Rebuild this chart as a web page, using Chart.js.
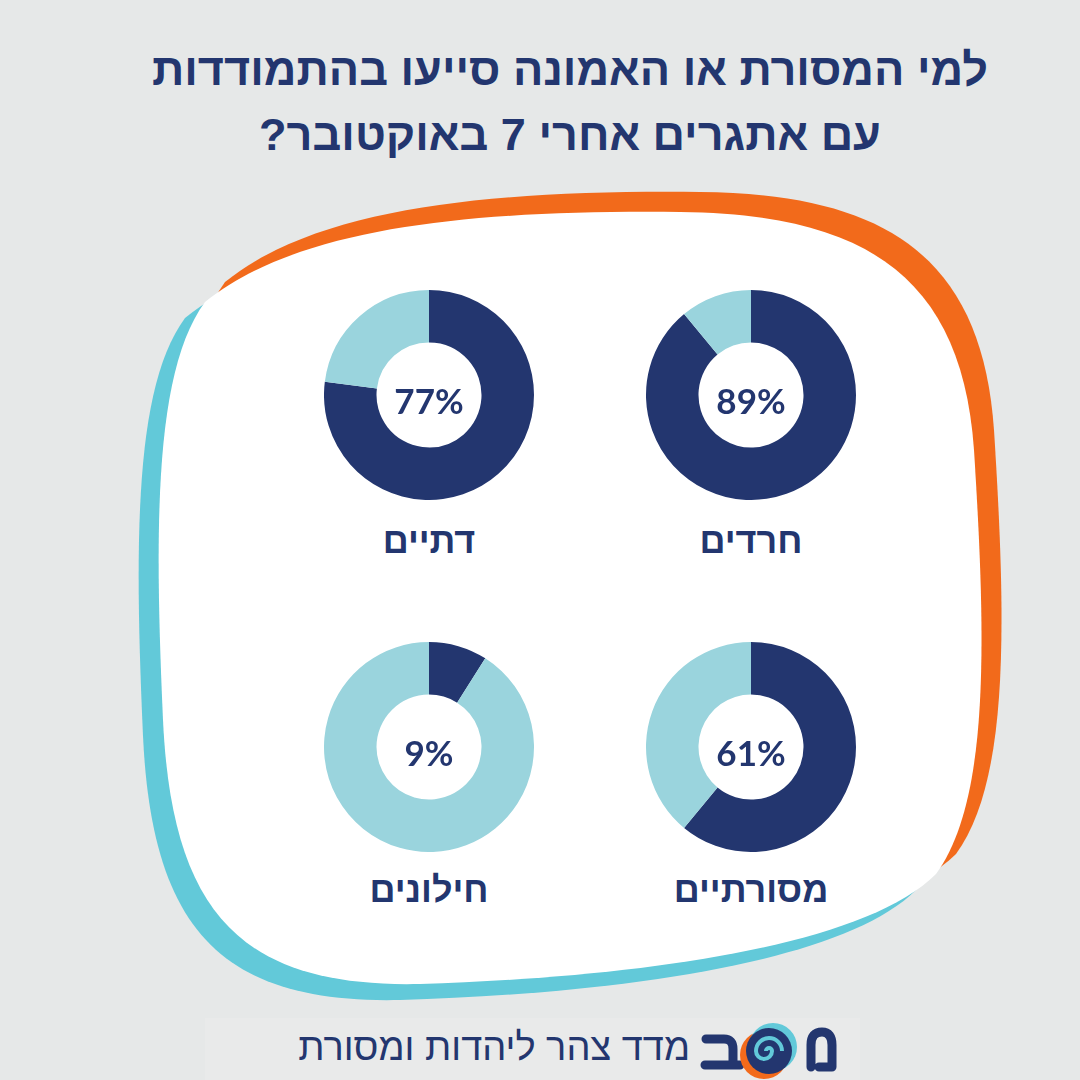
<!DOCTYPE html>
<html lang="he" dir="rtl">
<head>
<meta charset="utf-8">
<script src="https://cdn.jsdelivr.net/npm/chart.js@4.4.1/dist/chart.umd.min.js"></script>
<style>
  html, body { margin: 0; padding: 0; }
  body {
    width: 1080px; height: 1080px; position: relative; overflow: hidden;
    background: #e6e8e8;
    font-family: "Liberation Sans", "DejaVu Sans", sans-serif;
    color: #23366f;
  }
  #title {
    position: absolute; left: 70px; top: 37px; width: 1000px;
    text-align: center; font-weight: bold; font-size: 45px; line-height: 65px;
    margin: 0;
  }
  #blob { position: absolute; left: 0; top: 0; }
  .donut { position: absolute; }
  .label {
    position: absolute; width: 260px; text-align: center;
    font-weight: bold; font-size: 36px; line-height: 41px;
  }
  #footerBox {
    position: absolute; left: 205px; top: 1018px; width: 655px; height: 62px;
    background: #e9eaea;
  }
  #footerText {
    position: absolute; right: 390px; top: 1026px;
    font-size: 38px; line-height: 42px; white-space: nowrap;
  }
</style>
</head>
<body>
<svg id="blob" width="1080" height="1080">
  <defs>
    <path id="shape" d="M 205 302 C 300 225, 480 210, 680 212 C 870 214, 962 280, 974 450 C 986 640, 990 800, 936 874 C 860 950, 620 978, 420 984 C 240 988, 172 912, 163 720 C 154 520, 155 370, 205 302 Z"/>
  </defs>
  <use href="#shape" fill="#62c9d9" transform="translate(-20 16)"/>
  <use href="#shape" fill="#f26a1b" transform="translate(20 -20)"/>
  <use href="#shape" fill="#ffffff"/>
</svg>

<h1 id="title">למי המסורת או האמונה סייעו בהתמודדות<br>עם אתגרים אחרי 7 באוקטובר?</h1>

<div id="charts"></div>

<div id="footerBox"></div>
<svg style="position:absolute;left:700px;top:1015px" width="140" height="65">
  <!-- ב -->
  <path d="M 6 24 H 24 Q 33 24 33 34 V 50 M 5 50 H 40" fill="none" stroke="#23366f" stroke-width="9" stroke-linecap="round"/>
  <!-- swirl -->
  <circle cx="64" cy="40" r="24" fill="#f26a1b"/>
  <circle cx="73" cy="32" r="24" fill="#62c9d9"/>
  <circle cx="69" cy="36" r="23" fill="#23366f"/>
  <path d="M 69 36 m -3 0 a 3 3 0 1 1 6 0 a 8 8 0 0 1 -16 0 a 13 13 0 0 1 26 0" fill="none" stroke="#62c9d9" stroke-width="4"/>
  <!-- מ -->
  <path d="M 111 52 V 30 Q 111 17 122 17 Q 132 17 132 30 V 52 H 119" fill="none" stroke="#23366f" stroke-width="9" stroke-linecap="round" stroke-linejoin="round"/>
</svg>
<div id="footerText">מדד צהר ליהדות ומסורת</div>

<script>
// Data
const groups = ['חרדים', 'דתיים', 'מסורתיים', 'חילונים'];
const relied = [89, 77, 61, 9];

// Layout: centre of each donut
const centersX = [751, 429, 751, 429];
const centersY = [395, 395, 747, 747];
const labelY = [520, 520, 869, 869];

const DARK = '#23366f';
const LIGHT = '#9ad4dd';
const SIZE = 210;

// Draws the percentage inside the hole
const centerText = {
    id: 'centerText',
    afterDraw(chart) {
        const ctx = chart.ctx;
        const arc = chart.getDatasetMeta(0).data[0];
        ctx.save();
        ctx.font = 'bold 35px Lato, "Liberation Sans", sans-serif';
        ctx.fillStyle = DARK;
        ctx.textAlign = 'center';
        ctx.textBaseline = 'middle';
        ctx.fillText(chart.data.datasets[0].data[0] + '%', arc.x, arc.y + 8);
        ctx.restore();
    }
};

const container = document.getElementById('charts');

groups.forEach((name, i) => {
    const canvas = document.createElement('canvas');
    canvas.className = 'donut';
    canvas.width = SIZE;
    canvas.height = SIZE;
    canvas.style.left = (centersX[i] - SIZE / 2) + 'px';
    canvas.style.top = (centersY[i] - SIZE / 2) + 'px';
    container.appendChild(canvas);

    const label = document.createElement('div');
    label.className = 'label';
    label.textContent = name;
    label.style.left = (centersX[i] - 130) + 'px';
    label.style.top = labelY[i] + 'px';
    container.appendChild(label);

    new Chart(canvas.getContext('2d'), {
        type: 'doughnut',
        data: {
            labels: ['כן', 'לא'],
            datasets: [{
                data: [relied[i], 100 - relied[i]],
                backgroundColor: [DARK, LIGHT],
                borderWidth: 0
            }]
        },
        options: {
            responsive: false,
            animation: false,
            cutout: '50%',
            plugins: {
                legend: { display: false },
                tooltip: { enabled: false }
            }
        },
        plugins: [centerText]
    });
});
</script>
</body>
</html>
